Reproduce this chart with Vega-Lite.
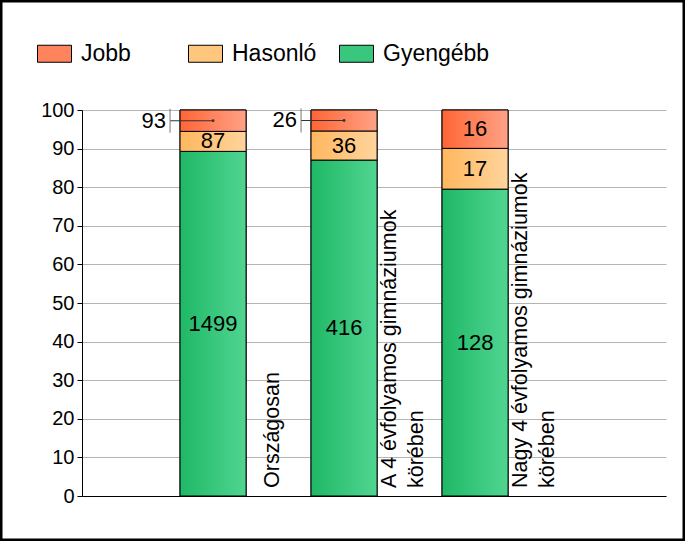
{
  "$schema": "https://vega.github.io/schema/vega-lite/v6.json",
  "width": 685,
  "height": 541,
  "autosize": "none",
  "padding": 0,
  "background": "white",
  "config": {
    "font": "Liberation Sans",
    "view": {"stroke": "black", "strokeWidth": 5, "fill": "white"},
    "text": {"font": "Liberation Sans", "fontSize": 22, "color": "black"}
  },
  "data": {
    "values": [
      {"cat": "Országosan", "grp": "Gyengébb", "n": 1499},
      {"cat": "Országosan", "grp": "Hasonló", "n": 87},
      {"cat": "Országosan", "grp": "Jobb", "n": 93},
      {"cat": "A 4 évfolyamos gimnáziumok\nkörében", "grp": "Gyengébb", "n": 416},
      {"cat": "A 4 évfolyamos gimnáziumok\nkörében", "grp": "Hasonló", "n": 36},
      {"cat": "A 4 évfolyamos gimnáziumok\nkörében", "grp": "Jobb", "n": 26},
      {"cat": "Nagy 4 évfolyamos gimnáziumok\nkörében", "grp": "Gyengébb", "n": 128},
      {"cat": "Nagy 4 évfolyamos gimnáziumok\nkörében", "grp": "Hasonló", "n": 17},
      {"cat": "Nagy 4 évfolyamos gimnáziumok\nkörében", "grp": "Jobb", "n": 16}
    ]
  },
  "transform": [
    {"stack": "n", "groupby": ["cat"], "sort": [{"field": "grp", "order": "ascending"}], "offset": "normalize", "as": ["y0", "y1"]},
    {"calculate": "(datum.y0 + datum.y1) / 2", "as": "ymid"},
    {"calculate": "datum.grp === 'Jobb' && (datum.y1 - datum.y0) < 0.08", "as": "outside"}
  ],
  "encoding": {
    "x": {
      "field": "cat",
      "type": "nominal",
      "sort": null,
      "scale": {
        "type": "band",
        "domain": ["Országosan", "A 4 évfolyamos gimnáziumok\nkörében", "Nagy 4 évfolyamos gimnáziumok\nkörében"],
        "range": [82, 666],
        "paddingInner": 0.496,
        "paddingOuter": 0.977,
        "align": 0.383
      },
      "axis": {
        "orient": "bottom",
        "offset": -45,
        "title": null,
        "labels": false,
        "ticks": false,
        "grid": false,
        "domainColor": "black",
        "domainWidth": 1
      }
    }
  },
  "layer": [
    {
      "mark": {"type": "bar", "stroke": "black", "strokeWidth": 1, "fillOpacity": 1},
      "encoding": {
        "y": {
          "field": "y0",
          "type": "quantitative",
          "scale": {"domain": [0, 1], "range": [496, 110], "nice": false, "zero": true},
          "axis": {
            "orient": "left",
            "offset": -82,
            "title": null,
            "values": [0, 0.1, 0.2, 0.3, 0.4, 0.5, 0.6, 0.7, 0.8, 0.9, 1],
            "labelExpr": "format(datum.value * 100, 'd')",
            "labelFontSize": 20,
            "labelColor": "black",
            "labelPadding": 3,
            "tickColor": "black",
            "tickSize": 5,
            "domainColor": "black",
            "grid": true,
            "gridColor": "#b4b4b4",
            "gridWidth": 1
          }
        },
        "y2": {"field": "y1"},
        "fill": {
          "field": "grp",
          "type": "nominal",
          "scale": {"domain": ["Jobb", "Hasonló", "Gyengébb"], "range": ["#ff845e", "#ffc67d", "#38c77c"]},
          "legend": {
            "orient": "none",
            "legendX": 37,
            "legendY": 36,
            "direction": "horizontal",
            "columns": 3,
            "gridAlign": "all",
            "columnPadding": -12.5,
            "title": null,
            "symbolType": "M-1,-0.5H1V0.5H-1Z",
            "symbolSize": 1156,
            "symbolStrokeColor": "black",
            "symbolStrokeWidth": 1,
            "symbolOpacity": 1,
            "labelFontSize": 23,
            "labelColor": "black",
            "labelOffset": 9,
            "labelFont": "Liberation Sans"
          }
        }
      }
    },
    {
      "mark": {"type": "bar", "stroke": "black", "strokeWidth": 1, "fillOpacity": 1},
      "encoding": {
        "y": {"field": "y0", "type": "quantitative"},
        "y2": {"field": "y1"},
        "fill": {
          "condition": [
            {"test": "datum.grp === 'Jobb'", "value": {"gradient": "linear", "x1": 0, "y1": 0, "x2": 1, "y2": 0, "stops": [{"offset": 0, "color": "#ff6535"}, {"offset": 1, "color": "#ffa286"}]}},
            {"test": "datum.grp === 'Hasonló'", "value": {"gradient": "linear", "x1": 0, "y1": 0, "x2": 1, "y2": 0, "stops": [{"offset": 0, "color": "#ffb75e"}, {"offset": 1, "color": "#ffd49c"}]}}
          ],
          "value": {"gradient": "linear", "x1": 0, "y1": 0, "x2": 1, "y2": 0, "stops": [{"offset": 0, "color": "#1fb866"}, {"offset": 1, "color": "#50d591"}]}
        }
      }
    },
    {
      "transform": [{"filter": "!datum.outside"}],
      "mark": {"type": "text", "align": "center", "baseline": "middle"},
      "encoding": {
        "y": {"field": "ymid", "type": "quantitative"},
        "text": {"field": "n", "type": "quantitative"}
      }
    },
    {
      "transform": [{"filter": "datum.outside"}],
      "mark": {"type": "text", "align": "right", "baseline": "middle", "dx": -47},
      "encoding": {
        "y": {"field": "ymid", "type": "quantitative"},
        "text": {"field": "n", "type": "quantitative"}
      }
    },
    {
      "transform": [{"filter": "datum.outside"}],
      "mark": {"type": "tick", "orient": "horizontal", "size": 43, "thickness": 1, "xOffset": -21.5, "color": "#333333", "opacity": 1},
      "encoding": {
        "y": {"field": "ymid", "type": "quantitative"}
      }
    },
    {
      "transform": [{"filter": "datum.outside"}],
      "mark": {"type": "tick", "orient": "vertical", "size": 24, "thickness": 1, "xOffset": -43, "color": "#777777", "opacity": 1},
      "encoding": {
        "y": {"field": "ymid", "type": "quantitative"}
      }
    },
    {
      "transform": [{"filter": "datum.outside"}],
      "mark": {"type": "point", "shape": "circle", "filled": true, "size": 8, "color": "#333333", "opacity": 1},
      "encoding": {
        "y": {"field": "ymid", "type": "quantitative"}
      }
    },
    {
      "transform": [{"filter": "datum.grp === 'Gyengébb' && datum.cat === 'Országosan'"}],
      "mark": {"type": "text", "angle": 270, "align": "left", "baseline": "middle", "dx": 8, "dy": 60, "fontSize": 21.5},
      "encoding": {
        "y": {"field": "y0", "type": "quantitative"},
        "text": {"field": "cat", "type": "nominal"}
      }
    },
    {
      "transform": [{"filter": "datum.grp === 'Gyengébb' && datum.cat !== 'Országosan'"}],
      "mark": {"type": "text", "angle": 270, "align": "left", "baseline": "middle", "dx": 8, "dy": 46, "lineBreak": "\n", "lineHeight": 27, "fontSize": 21.5},
      "encoding": {
        "y": {"field": "y0", "type": "quantitative"},
        "text": {"field": "cat", "type": "nominal"}
      }
    }
  ]
}
